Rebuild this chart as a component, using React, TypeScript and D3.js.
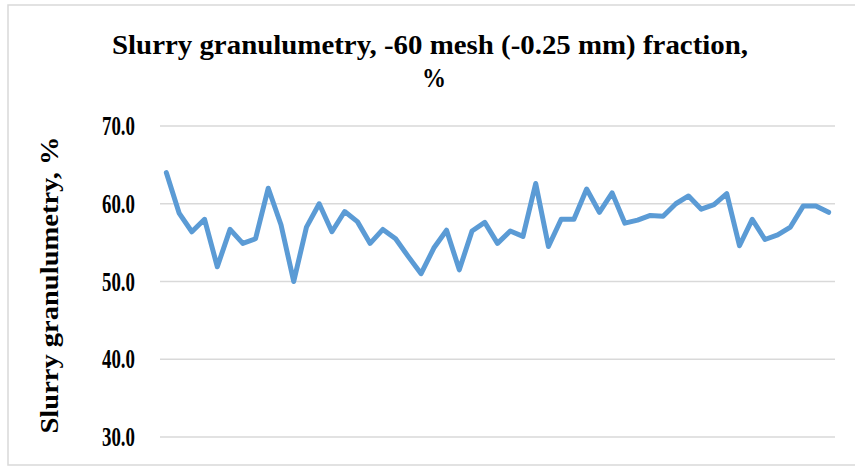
import React from 'react';
import * as d3 from 'd3';

// -60 mesh fraction, %
const values = [
  64.0, 58.8, 56.4, 58.0, 51.9, 56.7, 54.9, 55.5, 62.0, 57.3,
  50.0, 57.0, 60.0, 56.4, 59.0, 57.7, 54.9, 56.7, 55.5, 53.2,
  51.0, 54.3, 56.6, 51.5, 56.5, 57.6, 54.9, 56.5, 55.8, 62.6,
  54.5, 58.0, 58.0, 61.9, 58.9, 61.4, 57.5, 57.9, 58.5, 58.4,
  60.0, 61.0, 59.3, 59.9, 61.3, 54.6, 58.0, 55.4, 56.0, 57.0,
  59.7, 59.7, 58.9,
];
const categories = values.map((_, i) => i + 1);
const yTicks = [30, 40, 50, 60, 70];

const titleLines = ['Slurry granulumetry, -60 mesh (-0.25 mm) fraction,', '%'];
const yTitle = 'Slurry granulumetry, %';

const width = 855;
const height = 467;
const plot = { left: 160, right: 835, top: 126, bottom: 437 };
const font = '"Liberation Serif", serif';

const App: React.FC = () => {
  const x = d3.scalePoint<number>()
    .domain(categories)
    .range([plot.left, plot.right])
    .padding(0.5);
  const y = d3.scaleLinear().domain([30, 70]).range([plot.bottom, plot.top]);

  const line = d3.line<number>()
    .x((_, i) => x(categories[i]) as number)
    .y(d => y(d));

  return (
    <div style={{ position: 'absolute', left: 0, top: 0 }}>
      <svg width={width} height={height} style={{ display: 'block', background: '#fff' }}>
        <rect x={8} y={5} width={width} height={460} fill="#fff" stroke="#d9d9d9" strokeWidth={1.5} />

        {/* title */}
        <g fontFamily={font} fontWeight="bold" fontSize={27} fill="#000" textAnchor="middle">
          <text x={430} y={54} textLength={636} lengthAdjust="spacingAndGlyphs">{titleLines[0]}</text>
          <text x={434} y={87} textLength={24} lengthAdjust="spacingAndGlyphs">{titleLines[1]}</text>
        </g>

        {/* grid + tick labels */}
        {yTicks.map(t => (
          <g key={t}>
            <line x1={plot.left} x2={plot.right} y1={y(t)} y2={y(t)} stroke="#d9d9d9" strokeWidth={1.5} />
            <text
              x={135}
              y={y(t)}
              dy="0.34em"
              textAnchor="end"
              fontFamily={font}
              fontWeight="bold"
              fontSize={27}
              textLength={33}
              lengthAdjust="spacingAndGlyphs"
            >
              {t.toFixed(1)}
            </text>
          </g>
        ))}

        {/* y axis title */}
        <text
          transform="translate(58,285) rotate(-90)"
          textAnchor="middle"
          fontFamily={font}
          fontWeight="bold"
          fontSize={26}
          textLength={297}
          lengthAdjust="spacingAndGlyphs"
        >
          {yTitle}
        </text>

        <path
          d={line(values) ?? ''}
          fill="none"
          stroke="#5b9bd5"
          strokeWidth={5}
          strokeLinejoin="round"
          strokeLinecap="round"
        />
      </svg>
    </div>
  );
};

export default App;
